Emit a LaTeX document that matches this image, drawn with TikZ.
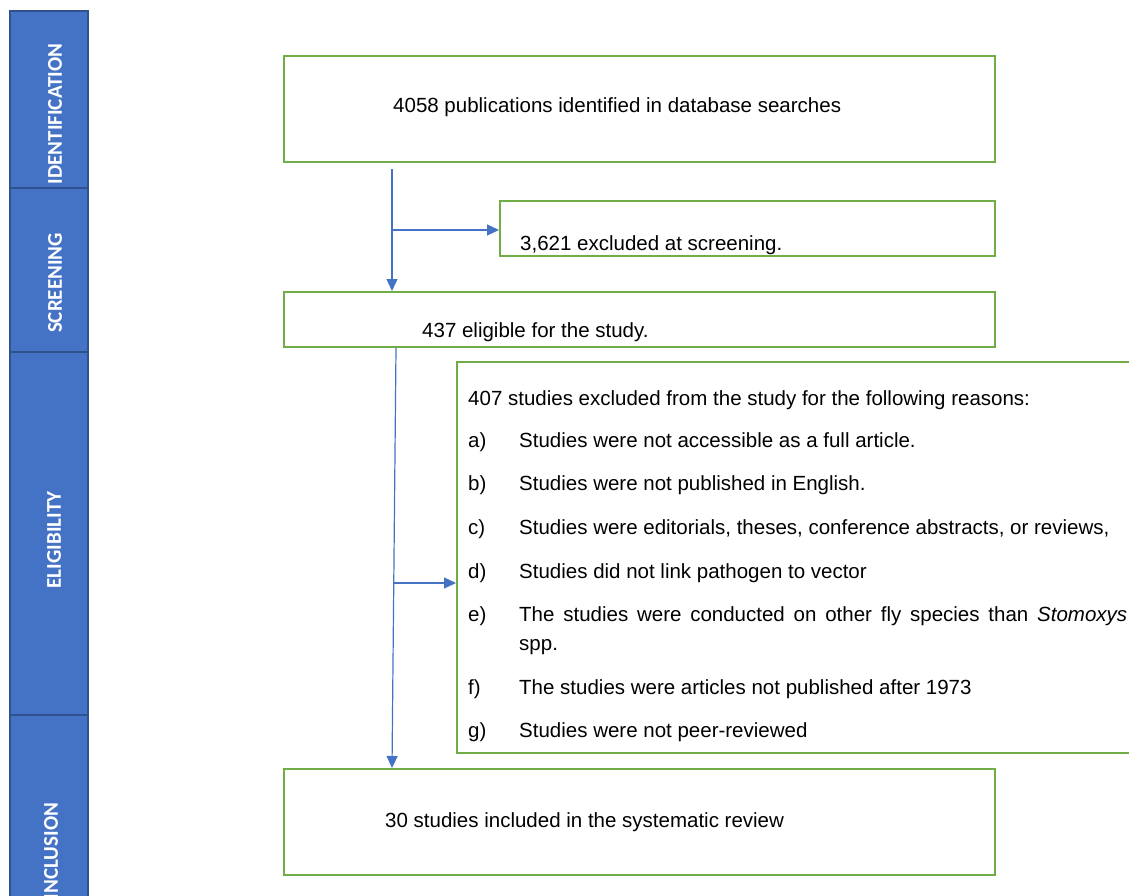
\documentclass[tikz,border=0pt]{standalone}
\usepackage{fontspec}
\setmainfont{Liberation Sans}
\newfontfamily\barfont{Carlito}
\usetikzlibrary{arrows.meta,calc}
\definecolor{boxgreen}{HTML}{70AD47}
\definecolor{barblue}{HTML}{4472C4}
\definecolor{bardark}{HTML}{2F528F}
\definecolor{arrblue}{HTML}{4472C4}
\begin{document}
\begin{tikzpicture}[x=1pt,y=-1pt,
  greenbox/.style={draw=boxgreen,line width=2pt,rectangle,inner sep=0pt,fill=white},
  barseg/.style={draw=bardark,line width=1.2pt,fill=barblue,rectangle,inner sep=0pt,minimum width=78pt},
  bartext/.style={rotate=90,text=white,font=\barfont\bfseries\fontsize{21}{25}\selectfont,inner sep=0pt},
  txt/.style={anchor=base west,inner sep=0pt,font=\fontsize{20.5}{24}\selectfont},
  arr/.style={draw=arrblue,line width=1.2pt,-{Triangle[length=12pt,width=11pt]}},
  conn/.style={draw=arrblue,line width=1.2pt}]
\clip (0,0) rectangle (1129,896);
\fill[white] (0,0) rectangle (1129,896);
% side bar
\node[barseg,minimum height=177pt] (seg1) at (49,99.5) {};
\node[barseg,minimum height=164pt] (seg2) at (49,270) {};
\node[barseg,minimum height=363pt] (seg3) at (49,533.5) {};
\node[barseg,minimum height=270pt] (seg4) at (49,850) {};
\node[bartext] (t1) at (55,114) {IDENTIFICATION};
\node[bartext] (t2) at (55,283) {SCREENING};
\node[bartext] (t3) at (54,540) {ELIGIBILITY};
\node[bartext] (t4) at (51,851) {INCLUSION};
% boxes
\node[greenbox,minimum width=711pt,minimum height=106pt] (b1) at (639.5,109) {};
\node[greenbox,minimum width=495pt,minimum height=55pt] (b2) at (747.5,228.5) {};
\node[greenbox,minimum width=711pt,minimum height=55pt] (b3) at (639.5,319.5) {};
\node[greenbox,minimum width=688pt,minimum height=391pt] (b4) at (801,557.5) {};
\node[greenbox,minimum width=711pt,minimum height=106pt] (b5) at (639.5,822) {};
% texts
\node[txt] (x1) at (393,113) {4058 publications identified in database searches};
\node[txt] (x2) at (520,250) {3,621 excluded at screening.};
\node[txt] (x3) at (422,337) {437 eligible for the study.};
\node[txt] (x5) at (385,827) {30 studies included in the systematic review};
\node[txt] (h4) at (468,405) {407 studies excluded from the study for the following reasons:};
\node[txt] (la) at (468,447) {a)};
\node[txt] (ia) at (519,447) {Studies were not accessible as a full article.};
\node[txt] (lb) at (468,490) {b)};
\node[txt] (ib) at (519,490) {Studies were not published in English.};
\node[txt] (lc) at (468,534) {c)};
\node[txt] (ic) at (519,534) {Studies were editorials, theses, conference abstracts, or reviews,};
\node[txt] (ld) at (468,578) {d)};
\node[txt] (id) at (519,578) {Studies did not link pathogen to vector};
\node[txt] (le) at (468,621) {e)};
\node[txt] (ie) at (519,621) {\makebox[608pt][s]{The studies were conducted on other fly species than \textit{Stomoxys}}};
\node[txt] (ie2) at (519,650) {spp.};
\node[txt] (lf) at (468,694) {f)};
\node[txt] (if) at (519,694) {The studies were articles not published after 1973};
\node[txt] (lg) at (468,737) {g)};
\node[txt] (ig) at (519,737) {Studies were not peer-reviewed};
% connectors
\coordinate (s1) at (392,169);
\coordinate (j1) at (392,230);
\draw[arr] (s1) -- (s1 |- b3.north);
\draw[arr] (j1) -- (j1 -| b2.west);
\coordinate (s2) at (396,348);
\coordinate (j2) at (393,583);
\draw[arr] (s2) -- ($(j2 |- b5.north)-(1,0)$);
\draw[arr] (j2) -- (j2 -| b4.west);
\end{tikzpicture}
\end{document}
